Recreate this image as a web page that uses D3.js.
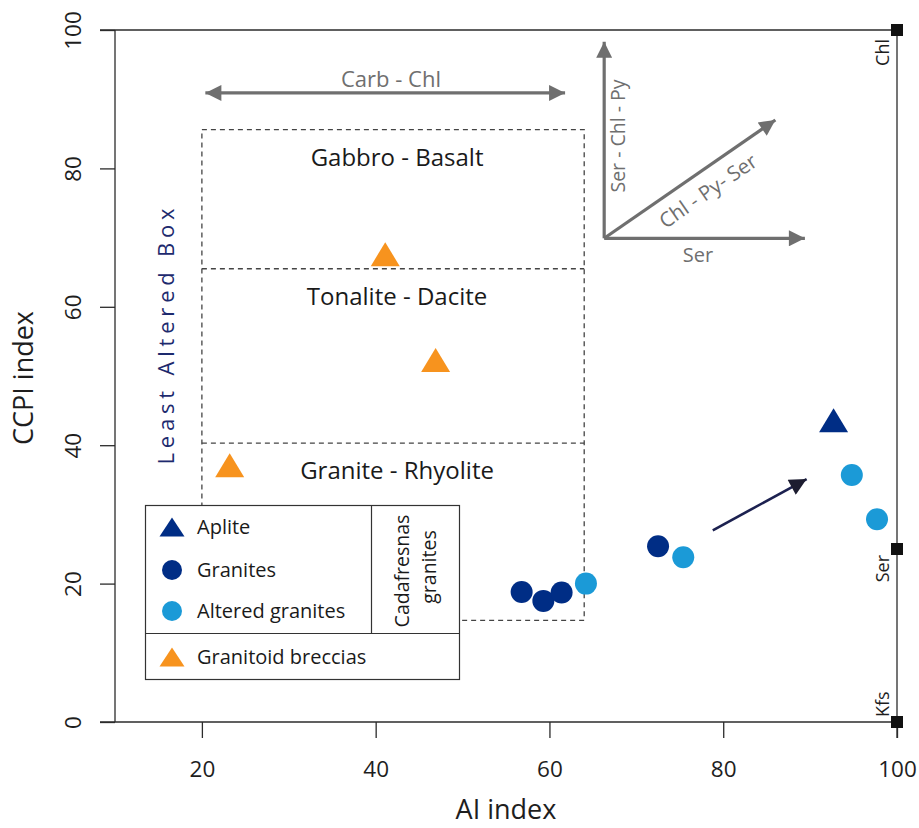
<!DOCTYPE html>
<html>
<head>
<meta charset="utf-8">
<script src="https://cdn.jsdelivr.net/npm/d3@7"></script>
<style>
  html, body { margin: 0; padding: 0; background: #fff; }
  svg { display: block; }
  text { font-family: "Open Sans", "Noto Sans", sans-serif; }
</style>
</head>
<body>
<svg id="chart" width="919" height="828"></svg>
<script>
// ---- data ----
const xTicks = [20, 40, 60, 80, 100];
const yTicks = [0, 20, 40, 60, 80, 100];

// Cadafresnas granites [AI, CCPI]
const apliteAI = [92.7];
const apliteCCPI = [43.6];
const granitesAI = [56.8, 59.3, 61.4, 72.5];
const granitesCCPI = [18.8, 17.5, 18.7, 25.4];
const alteredAI = [64.2, 75.4, 94.8, 97.7];
const alteredCCPI = [20.0, 23.8, 35.7, 29.3];
const brecciasAI = [41.1, 46.9, 23.2];
const brecciasCCPI = [67.6, 52.3, 37.1];

// Least altered box fields (AI range and CCPI limits)
const boxAI = [20, 64];
const boxLimits = [14.7, 40.3, 65.5, 85.6];
const boxFields = ["Granite - Rhyolite", "Tonalite - Dacite", "Gabbro - Basalt"];

// mineral end-members on the right axis
const endMembers = ["Kfs", "Ser", "Chl"];
const endMemberCCPI = [0, 25, 100];

// alteration trend vectors (origin and tips, in data units)
const trendOrigin = [66.3, 69.9];
const trendTips = [[66.3, 98.3], [86.0, 87.0], [89.4, 69.9]];
const trendLabels = ["Ser - Chl - Py", "Chl - Py- Ser", "Ser"];
const carbChl = [[20.4, 90.9], [61.8, 90.9]];
const trendArrow = [[78.8, 27.7], [89.6, 35.1]];

const navy = "#002d85";
const lightBlue = "#1b9ad7";
const orange = "#f7931e";
const gray = "#6f6f6f";
const ink = "#1e1e1e";

const svg = d3.select("#chart");
const x = d3.scaleLinear().domain([10, 100]).range([115, 897]);
const y = d3.scaleLinear().domain([0, 100]).range([722, 30]);

// arrowhead markers
const defs = svg.append("defs");
function marker(id, color, w, h) {
  defs.append("marker").attr("id", id)
    .attr("viewBox", "0 0 10 10").attr("refX", 10).attr("refY", 5)
    .attr("markerUnits", "userSpaceOnUse")
    .attr("markerWidth", w).attr("markerHeight", h)
    .attr("orient", "auto-start-reverse")
    .append("path").attr("d", "M0,0 L10,5 L0,10 Z").attr("fill", color);
}
marker("gArrow", gray, 19, 16);
marker("nArrow", "#1c1c30", 21, 17);

// ---- frame and axes ----
const frame = svg.append("g").attr("stroke", "#2b2b2b").attr("stroke-width", 1.3).attr("fill", "none");
frame.append("line").attr("x1", 100).attr("x2", x(100)).attr("y1", y(100)).attr("y2", y(100));
frame.append("line").attr("x1", 100).attr("x2", x(100)).attr("y1", y(0)).attr("y2", y(0));
frame.append("line").attr("x1", x(10)).attr("x2", x(10)).attr("y1", y(100)).attr("y2", y(0));
frame.append("line").attr("x1", x(100)).attr("x2", x(100)).attr("y1", y(100)).attr("y2", y(0) + 16);

const xAxis = svg.append("g").attr("transform", `translate(0,${y(0)})`)
  .call(d3.axisBottom(x).tickValues(xTicks).tickSize(16));
xAxis.select(".domain").remove();
xAxis.selectAll("line").attr("stroke", "#2b2b2b").attr("stroke-width", 1.3);
xAxis.selectAll("text").attr("y", 55).attr("dy", null)
  .attr("font-size", 22.5).attr("fill", ink);

const yAxis = svg.append("g").attr("transform", `translate(${x(10)},0)`)
  .call(d3.axisLeft(y).tickValues(yTicks).tickSize(15));
yAxis.select(".domain").remove();
yAxis.selectAll("line").attr("stroke", "#2b2b2b").attr("stroke-width", 1.3);
yAxis.selectAll("text")
  .attr("x", null).attr("dy", null)
  .attr("text-anchor", "middle")
  .attr("transform", "translate(-34,0) rotate(-90)")
  .attr("font-size", 22.5).attr("fill", ink);

svg.append("text").attr("x", x(55)).attr("y", 819)
  .attr("text-anchor", "middle").attr("font-size", 27).attr("fill", ink).text("AI index");
svg.append("text").attr("transform", `translate(33,378) rotate(-90)`)
  .attr("text-anchor", "middle").attr("font-size", 27).attr("fill", ink).text("CCPI index");

// right-hand end-member axis
const em = svg.append("g");
endMembers.forEach((name, i) => {
  const yy = y(endMemberCCPI[i]);
  em.append("rect").attr("x", x(100) - 6).attr("y", yy - 6).attr("width", 12).attr("height", 12).attr("fill", "#111");
  const down = endMemberCCPI[i] > 0;
  em.append("text")
    .attr("transform", `translate(${x(100) - 8},${down ? yy + (i === 2 ? 9 : 6) : yy - 5}) rotate(-90)`)
    .attr("text-anchor", down ? "end" : "start")
    .attr("font-size", 18).attr("fill", ink).text(name);
});

// ---- least altered box ----
const box = svg.append("g").attr("fill", "none").attr("stroke", "#444")
  .attr("stroke-width", 1.3).attr("stroke-dasharray", "5,4");
box.append("rect").attr("x", x(boxAI[0])).attr("y", y(boxLimits[3]))
  .attr("width", x(boxAI[1]) - x(boxAI[0])).attr("height", y(boxLimits[0]) - y(boxLimits[3]));
boxLimits.slice(1, 3).forEach(v => {
  box.append("line").attr("x1", x(boxAI[0])).attr("x2", x(boxAI[1])).attr("y1", y(v)).attr("y2", y(v));
});
boxFields.forEach((name, i) => {
  svg.append("text").attr("x", (x(boxAI[0]) + x(boxAI[1])) / 2 + 4)
    .attr("y", y(boxLimits[i + 1]) + 36)
    .attr("text-anchor", "middle").attr("font-size", 24).attr("fill", "#1a1a1a").text(name);
});
svg.append("text").attr("transform", `translate(174,334) rotate(-90)`)
  .attr("text-anchor", "middle").attr("font-size", 22).attr("letter-spacing", 4.8)
  .attr("fill", "#1d2a6e").text("Least Altered Box");

// ---- alteration trend vectors ----
const vec = svg.append("g").attr("stroke", gray).attr("stroke-width", 3.2).attr("fill", "none");
trendTips.forEach(t => {
  vec.append("line").attr("x1", x(trendOrigin[0])).attr("y1", y(trendOrigin[1]))
    .attr("x2", x(t[0])).attr("y2", y(t[1])).attr("marker-end", "url(#gArrow)");
});
vec.append("line").attr("x1", x(carbChl[0][0])).attr("y1", y(carbChl[0][1]))
  .attr("x2", x(carbChl[1][0])).attr("y2", y(carbChl[1][1]))
  .attr("marker-start", "url(#gArrow)").attr("marker-end", "url(#gArrow)");

svg.append("text").attr("x", 391).attr("y", y(carbChl[0][1]) - 6)
  .attr("text-anchor", "middle").attr("font-size", 22).attr("fill", gray).text("Carb - Chl");
svg.append("text").attr("transform", `translate(${x(trendOrigin[0]) + 21},136) rotate(-90)`)
  .attr("text-anchor", "middle").attr("font-size", 19.5).attr("fill", gray).text(trendLabels[0]);
const ang = Math.atan2(y(trendTips[1][1]) - y(trendOrigin[1]), x(trendTips[1][0]) - x(trendOrigin[0])) * 180 / Math.PI;
svg.append("text").attr("transform", `translate(708,191) rotate(${ang})`)
  .attr("text-anchor", "middle").attr("dy", "0.35em").attr("font-size", 20.5).attr("fill", gray).text(trendLabels[1]);
svg.append("text").attr("x", 698).attr("y", y(trendOrigin[1]) + 24)
  .attr("text-anchor", "middle").attr("font-size", 20).attr("fill", gray).text(trendLabels[2]);

// navy alteration trend arrow
svg.append("line").attr("x1", x(trendArrow[0][0])).attr("y1", y(trendArrow[0][1]))
  .attr("x2", x(trendArrow[1][0])).attr("y2", y(trendArrow[1][1]))
  .attr("stroke", "#1c2150").attr("stroke-width", 2.6).attr("marker-end", "url(#nArrow)");

// ---- symbols ----
const tri = (w, h) => `M0,${-h / 2} L${w / 2},${h / 2} L${-w / 2},${h / 2} Z`;
const pts = svg.append("g");
function circles(ax, cy, color) {
  pts.selectAll(null).data(ax.map((v, i) => [v, cy[i]])).enter().append("circle")
    .attr("cx", d => x(d[0])).attr("cy", d => y(d[1])).attr("r", 11).attr("fill", color);
}
function triangles(ax, cy, color) {
  pts.selectAll(null).data(ax.map((v, i) => [v, cy[i]])).enter().append("path")
    .attr("d", tri(29, 24)).attr("transform", d => `translate(${x(d[0])},${y(d[1])})`).attr("fill", color);
}
circles(granitesAI, granitesCCPI, navy);
circles(alteredAI, alteredCCPI, lightBlue);
triangles(brecciasAI, brecciasCCPI, orange);
triangles(apliteAI, apliteCCPI, navy);

// ---- legend ----
const lg = svg.append("g");
lg.append("rect").attr("x", 145.5).attr("y", 505.5).attr("width", 314).attr("height", 174)
  .attr("fill", "#fff").attr("stroke", "#333").attr("stroke-width", 1.2);
lg.append("line").attr("x1", 145.5).attr("x2", 459.5).attr("y1", 633.5).attr("y2", 633.5).attr("stroke", "#333").attr("stroke-width", 1.2);
lg.append("line").attr("x1", 371.5).attr("x2", 371.5).attr("y1", 505.5).attr("y2", 633.5).attr("stroke", "#333").attr("stroke-width", 1.2);

const legendItems = [
  { label: "Aplite", shape: "tri", color: navy, y: 527 },
  { label: "Granites", shape: "circ", color: navy, y: 570 },
  { label: "Altered granites", shape: "circ", color: lightBlue, y: 611 },
  { label: "Granitoid breccias", shape: "tri", color: orange, y: 657 }
];
legendItems.forEach(d => {
  if (d.shape === "tri") {
    lg.append("path").attr("d", tri(25, 19)).attr("transform", `translate(172,${d.y})`).attr("fill", d.color);
  } else {
    lg.append("circle").attr("cx", 172).attr("cy", d.y).attr("r", 10).attr("fill", d.color);
  }
  lg.append("text").attr("x", 197).attr("y", d.y).attr("dy", "0.36em")
    .attr("font-size", 20).attr("fill", "#1a1a1a").text(d.label);
});
lg.append("text").attr("transform", "translate(409,571) rotate(-90)")
  .attr("text-anchor", "middle").attr("font-size", 19.5).attr("fill", "#1a1a1a").text("Cadafresnas");
lg.append("text").attr("transform", "translate(436,567) rotate(-90)")
  .attr("text-anchor", "middle").attr("font-size", 19.5).attr("fill", "#1a1a1a").text("granites");
</script>
</body>
</html>
